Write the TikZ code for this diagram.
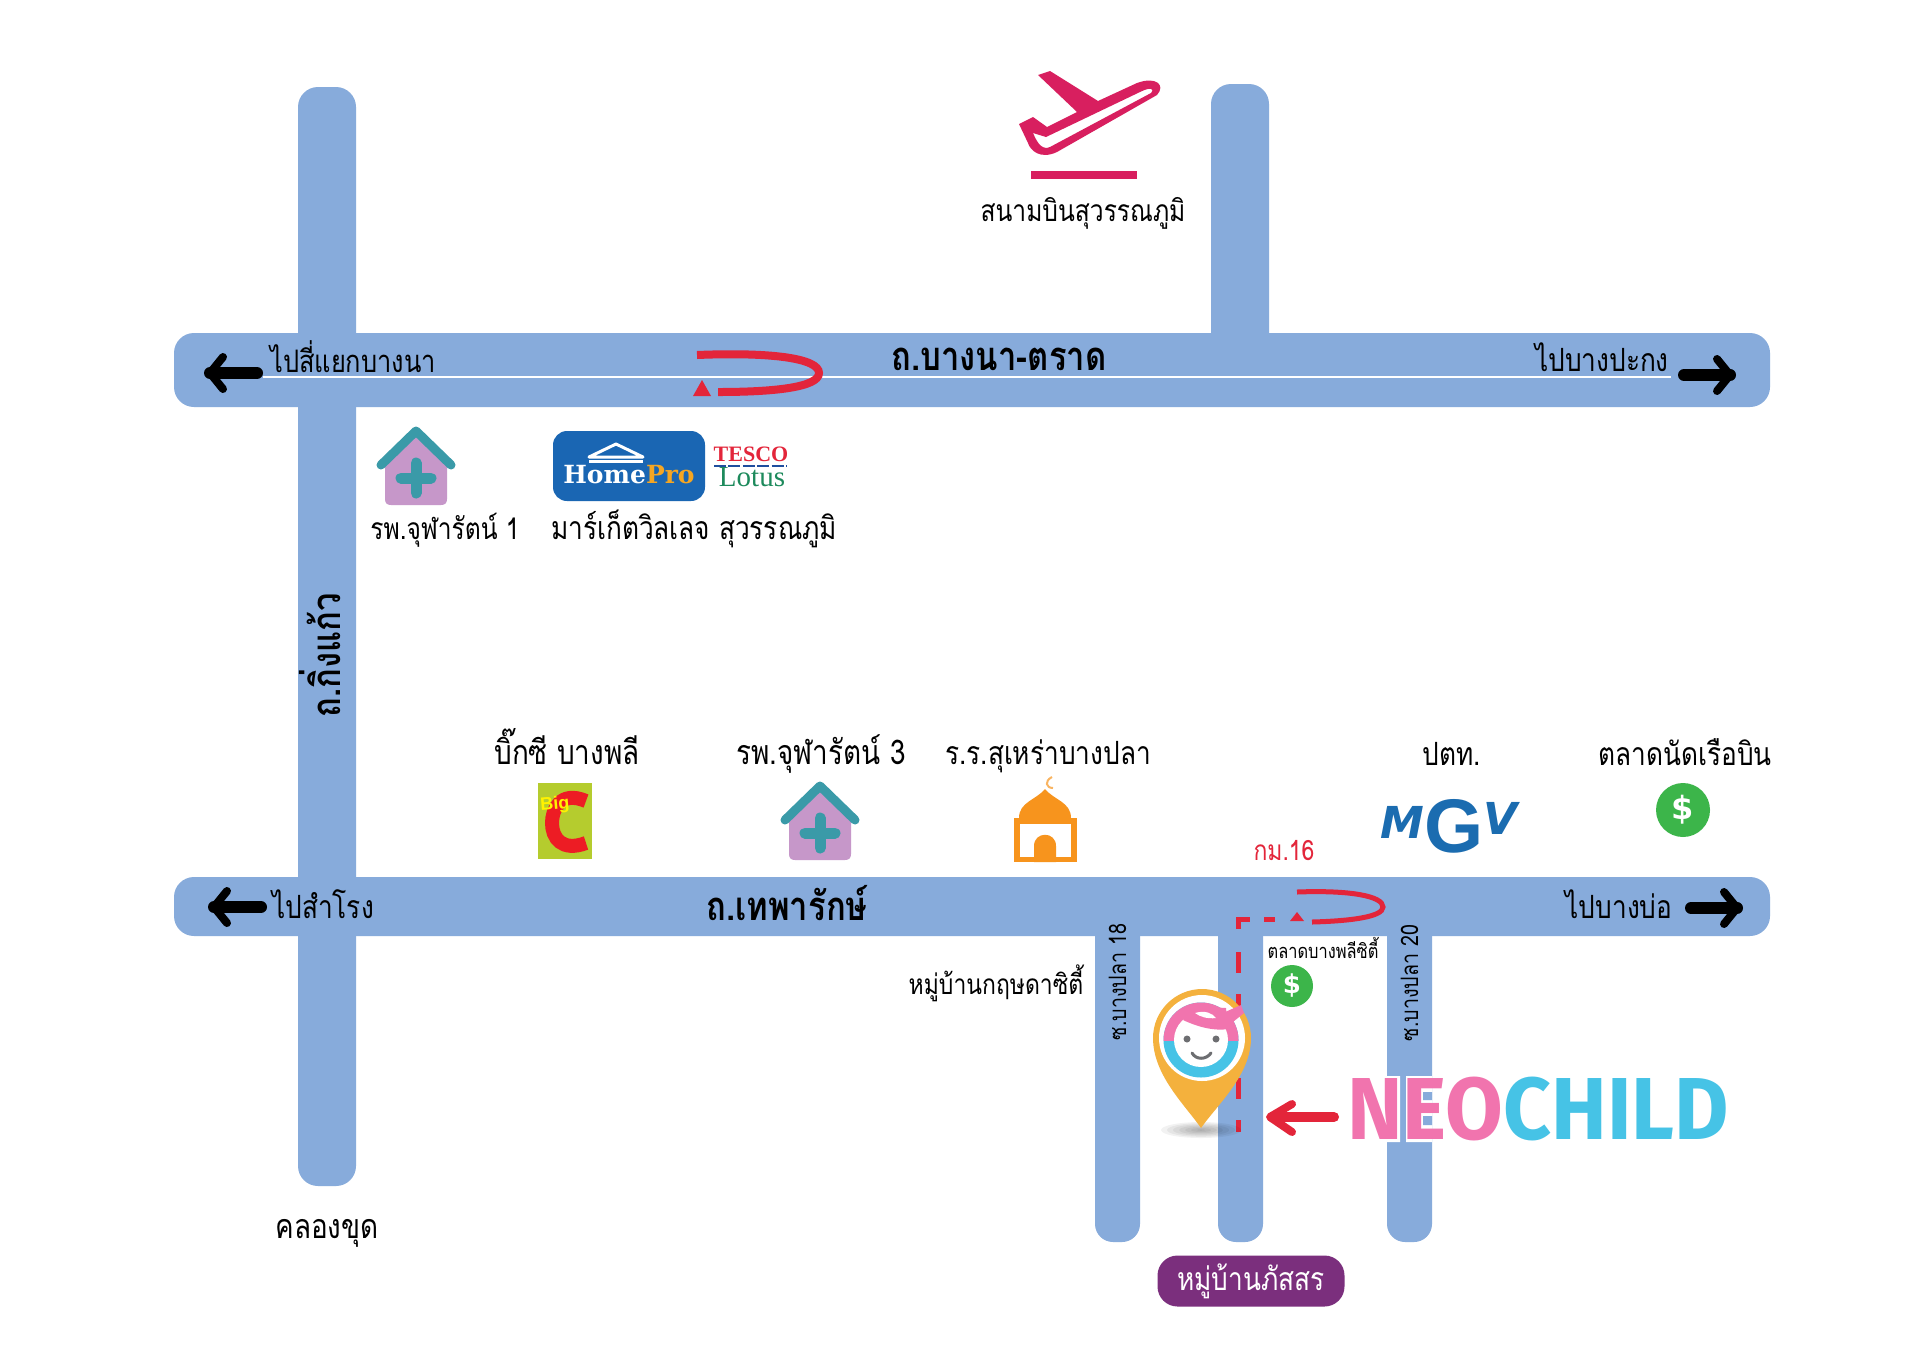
\documentclass[tikz,border=0pt]{standalone}
\usepackage{fontspec}
\usepackage{xcolor}
\usetikzlibrary{calc}
\newfontfamily\thaifont[Script=Thai,FakeStretch=0.82]{Loma}
\newfontfamily\neofont[FakeStretch=0.95]{Fira Sans}
\newfontfamily\heavyfont{DejaVu Sans}
\newfontfamily\slabfont{DejaVu Serif}
\newfontfamily\timesfont{Liberation Serif}
\newfontfamily\arialfont{Liberation Sans}
\definecolor{road}{HTML}{87ABDB}
\definecolor{uturn}{HTML}{E3253A}
\definecolor{plane}{HTML}{D81F5F}
\definecolor{mauve}{HTML}{C697C9}
\definecolor{roof}{HTML}{3A9AA8}
\definecolor{problue}{HTML}{1A66B3}
\definecolor{progold}{HTML}{F5A623}
\definecolor{bigbg}{HTML}{B5CC2E}
\definecolor{bigred}{HTML}{ED1C24}
\definecolor{lotus}{HTML}{1D8A5C}
\definecolor{stripe}{HTML}{1F4E9E}
\definecolor{mosque}{HTML}{F7941D}
\definecolor{mgv}{HTML}{1B6CB0}
\definecolor{money}{HTML}{3CB54A}
\definecolor{pinbody}{HTML}{F4B13D}
\definecolor{neopink}{HTML}{F174AE}
\definecolor{neocyan}{HTML}{46C3E6}
\definecolor{pillbg}{HTML}{7B2F7D}
\definecolor{eye}{HTML}{6D6E71}
\tikzset{
  roadbar/.style={fill=road, rounded corners=10pt},
  lab/.style={anchor=base, inner sep=0pt, text=black, font=\thaifont\fontsize{#1}{19}\selectfont},
  lab/.default=16,
  labb/.style={anchor=base, inner sep=0pt, text=black, font=\thaifont\bfseries\fontsize{20}{22}\selectfont},
  logo/.style={inner sep=0pt, anchor=base},
  shaft/.style={draw=black, line width=6pt, line cap=round},
  barb/.style={draw=black, line width=4pt, line cap=round, line join=round},
  route/.style={draw=uturn, line width=2.5pt},
  dollar/.style={circle, fill=money, inner sep=0pt, text=white, font=\heavyfont\bfseries\fontsize{16}{16}\selectfont},
}

\begin{document}
\begin{tikzpicture}[x=0.5pt,y=-0.5pt]
  \fill[white] (0,0) rectangle (1920,1356);
  \useasboundingbox (0,0) rectangle (1920,1356);
  % roads
  \fill[roadbar] (298,87) rectangle (356,1186);
  \fill[roadbar] (1211,84) rectangle (1269,360);
  \foreach \xa/\xb in {1095/1140,1218/1263,1387/1432}
    \fill[road, rounded corners=9pt] (\xa,900) rectangle (\xb,1242);
  \fill[roadbar] (174,333) rectangle (1770,407);
  \fill[roadbar] (174,877) rectangle (1770,936);
  \fill[white] (263,376) rectangle (1671,378);
  % big arrows
  \foreach \xa/\xb/\xc/\y in {257/210/223/373,1684/1730/1717/375,261/214/227/907,1691/1737/1724/908}{
    \draw[shaft] (\xa,\y) -- (\xb,\y);
    \draw[barb] (\xc,\y-16) -- (\xb,\y) -- (\xc,\y+16);
  }
  % u-turns
  \draw[uturn, line width=4pt] (697,355) .. controls (770,352) and (819,358) .. (819,373) .. controls (819,388) and (770,392) .. (718,392);
  \fill[uturn] (702,380) -- (711,396) -- (693,396) -- cycle;
  \draw[uturn, line width=2.5pt] (1297,892) .. controls (1350,890) and (1383,896) .. (1383,907) .. controls (1383,917) and (1350,921) .. (1312,922);
  \fill[uturn] (1297,912) -- (1304,921) -- (1290,921) -- cycle;
  \draw[route] (1238,929) -- (1238,919) -- (1250,919) (1264,919) -- (1275,919);
  \draw[route, dash pattern=on 10.5pt off 10.5pt] (1238,952) -- (1238,1132);
  % airport
  \fill[plane, even odd rule] (1019,124) -- (1033,117) -- (1047,127) -- (1077,112) -- (1038,75) -- (1050,71) -- (1098,101) -- (1137,83)
    .. controls (1156,76) and (1166,85) .. (1157,95) -- (1057,152) .. controls (1040,160) and (1030,150) .. (1028,143) -- cycle
    (1033,133) -- (1046,137) -- (1140,92) .. controls (1150,87) and (1155,88) .. (1151,93) -- (1050,147) .. controls (1043,150) and (1038,145) .. cycle;
  \fill[plane] (1031,171) rectangle (1137,179);
  \node[lab=15] (apt) at (1083,221) {สนามบินสุวรรณภูมิ};
  % road labels
  \node[lab=15.5] (toNa) at (353,372) {ไปสี่แยกบางนา};
  \node[labb] (bnt) at (999,370) {ถ.บางนา-ตราด};
  \node[lab] (toPk) at (1602,371) {ไปบางปะกง};
  \node[lab] (toSr) at (323,918) {ไปสำโรง};
  \node[labb] (tpr) at (787,920) {ถ.เทพารักษ์};
  \node[lab] (toBb) at (1619,918) {ไปบางบ่อ};
  \node[labb, rotate=90] (kgk) at (340,655) {ถ.กิ่งแก้ว};
  \node[lab=17] (klg) at (327,1238) {คลองขุด};
  % hospitals
  \foreach \X/\Y in {416/427,820/782}{
    \fill[mauve] (\X-31,\Y+37) -- (\X,\Y+5) -- (\X+31,\Y+37) -- (\X+31,\Y+72) .. controls (\X+31,\Y+76) and (\X+29,\Y+78) .. (\X+25,\Y+78) -- (\X-25,\Y+78) .. controls (\X-29,\Y+78) and (\X-31,\Y+76) .. (\X-31,\Y+72) -- cycle;
    \draw[roof, line width=4.5pt, line cap=round, line join=round] (\X-35,\Y+38) -- (\X,\Y+4) -- (\X+35,\Y+38);
    \draw[roof, line width=5.5pt, line cap=round] (\X-15,\Y+51) -- (\X+15,\Y+51) (\X,\Y+36) -- (\X,\Y+66);
  }
  \node[lab=15] (hos1) at (445,539) {รพ.จุฬารัตน์ 1};
  \node[lab=17] (hos3) at (821,764) {รพ.จุฬารัตน์ 3};
  % homepro and tesco
  \fill[problue, rounded corners=7pt] (553,431) rectangle (705,501);
  \draw[white, line width=1.5pt, line join=round] (589,457) -- (616,444) -- (643,457) -- cycle;
  \fill[white] (589,460) rectangle (643,463);
  \node[logo, font=\slabfont\bfseries\fontsize{12.5}{14}\selectfont, text=white] (hpro) at (629,483) {Home\textcolor{progold}{Pro}};
  \node[logo, font=\timesfont\bfseries\fontsize{11}{12}\selectfont, text=uturn] (tsc) at (751,461) {TESCO};
  \draw[stripe, line width=1.2pt, dash pattern=on 6pt off 1.2pt] (714,466) -- (787,466);
  \node[logo, font=\timesfont\fontsize{14.5}{16}\selectfont, text=lotus] (lts) at (752,486) {Lotus};
  \node[lab] (mkt) at (694,539) {มาร์เก็ตวิลเลจ สุวรรณภูมิ};
  % big c
  \node[lab=17] (bgc) at (567,764) {บิ๊กซี บางพลี};
  \fill[bigbg] (538,783) rectangle (592,859);
  \draw[bigred, line width=7pt] (586,801) .. controls (560,790) and (552,810) .. (552,823) .. controls (552,838) and (562,852) .. (586,843);
  \node[inner sep=0pt, font=\arialfont\bfseries\fontsize{9}{9}\selectfont, text=yellow, rotate=5] (bigt) at (555,805) {Big};
  % mosque
  \node[lab] (msq) at (1048,764) {ร.ร.สุเหร่าบางปลา};
  \draw[mosque!70!white, line width=1pt] (1052,777) .. controls (1044,781) and (1046,788) .. (1053,788);
  \fill[mosque] (1019,818) .. controls (1019,802) and (1036,800) .. (1045,789) .. controls (1054,800) and (1071,802) .. (1071,818) -- cycle;
  \fill[mosque] (1014,818) rectangle (1077,862);
  \fill[white] (1020,824) rectangle (1071,857);
  \fill[mosque] (1034,862) -- (1034,846) .. controls (1034,831) and (1056,831) .. (1056,846) -- (1056,862) -- cycle;
  % mgv
  \node[lab] (ptt) at (1452,765) {ปตท.};
  \node[logo, text=mgv, font=\heavyfont\bfseries] (mgvl) at (1449,852) {\raisebox{7pt}{\fontsize{22}{22}\selectfont\itshape M}\fontsize{38}{38}\selectfont\arialfont G\raisebox{9pt}{\heavyfont\fontsize{22}{22}\selectfont\itshape V}};
  % markets
  \node[lab] (ntm) at (1685,765) {ตลาดนัดเรือบิน};
  \node[dollar, minimum size=27pt] (ntd) at (1683,810) {\$};
  \node[lab=10] (cty) at (1323,958) {ตลาดบางพลีซิตี้};
  \node[dollar, minimum size=21pt, font=\heavyfont\bfseries\fontsize{13}{13}\selectfont] (ctd) at (1292,986) {\$};
  \node[lab=14, text=uturn] (km) at (1284,860) {กม.16};
  % side streets
  \node[lab=12, rotate=90] (s18) at (1126,982) {ซ.บางปลา 18};
  \node[lab=12, rotate=90] (s20) at (1418,983) {ซ.บางปลา 20};
  \node[lab=14] (ksd) at (996,994) {หมู่บ้านกฤษดาซิตี้};
  % pin
  \foreach \r in {4,10,...,40}
    \fill[black, opacity=0.05] (1201,1130) ellipse ({\r} and {\r/5});
  \fill[pinbody] (1201,1128) .. controls (1185,1105) and (1153,1075) .. (1153,1038) .. controls (1153,1011) and (1175,989) .. (1202,989) .. controls (1229,989) and (1251,1011) .. (1251,1038) .. controls (1251,1075) and (1217,1105) .. cycle;
  \fill[white] (1202,1038) circle (43);
  \fill[neocyan] (1201,1040) circle (37.5);
  \begin{scope}
    \clip (1150,995) rectangle (1250,1040);
    \fill[neopink] (1201,1040) circle (37.5);
  \end{scope}
  \fill[white] (1201,1040) circle (27);
  \fill[neopink] (1183,1020) .. controls (1200,1028) and (1216,1031) .. (1228,1029) -- (1226,1008) -- (1192,1006) -- cycle;
  \fill[neopink] (1225,1012) -- (1241,1005) -- (1244,1013) -- (1228,1026) -- cycle;
  \fill[white] (1195,1013) .. controls (1205,1010) and (1212,1013) .. (1216,1018) .. controls (1208,1019) and (1200,1017) .. cycle;
  \fill[eye] (1187,1039) circle (3.5) (1216,1039) circle (3.5);
  \draw[eye, line width=1.5pt, line cap=round] (1192,1053) .. controls (1196,1060) and (1206,1060) .. (1211,1053);
  % neochild
  \draw[uturn, line width=5pt, line cap=round] (1334,1117) -- (1272,1117);
  \draw[uturn, line width=4pt, line cap=round, line join=round] (1292,1104) -- (1270,1117) -- (1292,1132);
  \fill[white] (1386,1076) rectangle (1400,1142) (1406,1076) rectangle (1432,1142);
  \fill[road] (1423,1092) rectangle (1432,1100) (1423,1116) rectangle (1432,1125);
  \node[inner sep=0pt, anchor=base west, font=\neofont\bfseries\fontsize{44}{46}\selectfont] (neo) at (1347,1139) {\textcolor{neopink}{NEO}\textcolor{neocyan}{CHILD}};
  \node[fill=pillbg, text=white, rounded corners=10pt, minimum width=93.5pt, minimum height=25.5pt, inner sep=0pt, font=\thaifont\fontsize{16}{18}\selectfont] (pss) at (1251,1281) {หมู่บ้านภัสสร};
\end{tikzpicture}
\end{document}
